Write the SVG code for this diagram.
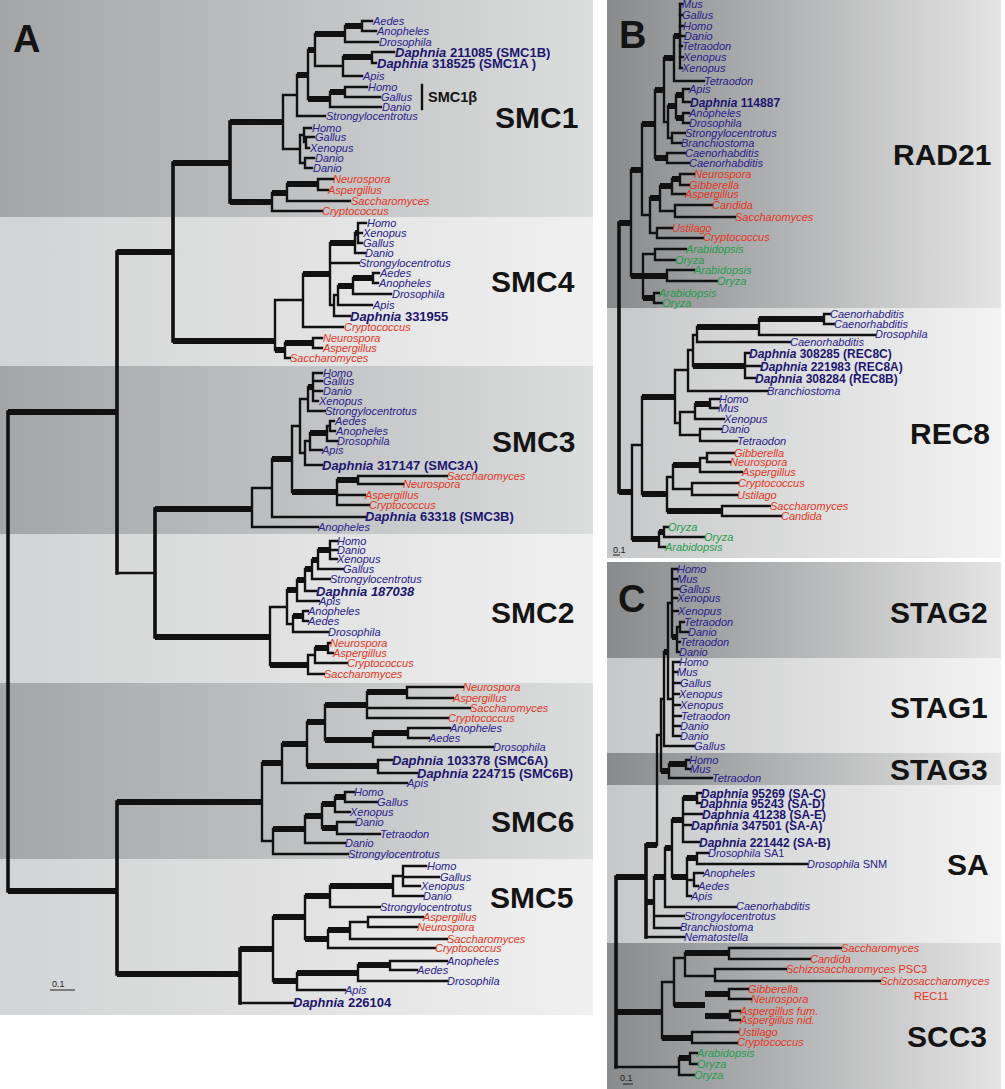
<svg xmlns="http://www.w3.org/2000/svg" width="1005" height="1089" viewBox="0 0 1005 1089">
<defs>
<linearGradient id="gdA" x1="0" y1="0" x2="1" y2="0"><stop offset="0" stop-color="#a3a5a7"/><stop offset="1" stop-color="#dcdddd"/></linearGradient>
<linearGradient id="glA" x1="0" y1="0" x2="1" y2="0"><stop offset="0" stop-color="#d2d3d4"/><stop offset="1" stop-color="#f0f0f0"/></linearGradient>
<linearGradient id="gdB" x1="0" y1="0" x2="1" y2="0"><stop offset="0" stop-color="#888a8c"/><stop offset="1" stop-color="#e4e4e4"/></linearGradient>
<linearGradient id="glB" x1="0" y1="0" x2="1" y2="0"><stop offset="0" stop-color="#c6c7c8"/><stop offset="1" stop-color="#f3f3f3"/></linearGradient>
<style>
.b{fill:none;stroke:#111;stroke-width:2.4;stroke-linecap:square}
.t{fill:none;stroke:#111;stroke-width:6;stroke-linecap:butt}
.bb{fill:none;stroke:#111;stroke-width:3.6;stroke-linecap:square}
text{font-family:"Liberation Sans",Arial,sans-serif}
.tx{font-style:italic;font-size:11px}
.an{fill:#28208c}.fu{fill:#e5361c}.pl{fill:#1f9e4a}
.dp{font-style:italic;font-weight:bold;font-size:13px;fill:#1c1670}
.dq{font-style:italic;font-weight:bold;font-size:12px;fill:#1c1670}
.n{font-style:normal}
.lb{font-weight:bold;font-size:30px;fill:#141414}
.pn{font-weight:bold;font-size:38px;fill:#141414}
.sc{font-size:9px;fill:#222}
.rg{font-style:normal}
</style>
</defs>
<rect width="1005" height="1089" fill="#fff"/>
<g id="panelA-bg">
<rect x="0" y="0" width="593" height="217" fill="url(#gdA)"/>
<rect x="0" y="217" width="593" height="149" fill="url(#glA)"/>
<rect x="0" y="366" width="593" height="168" fill="url(#gdA)"/>
<rect x="0" y="534" width="593" height="149" fill="url(#glA)"/>
<rect x="0" y="683" width="593" height="176" fill="url(#gdA)"/>
<rect x="0" y="859" width="593" height="156" fill="url(#glA)"/>
</g>
<g id="panelB-bg">
<rect x="607" y="0" width="394" height="308" fill="url(#gdB)"/>
<rect x="607" y="308" width="394" height="250" fill="url(#glB)"/>
</g>
<g id="panelC-bg">
<rect x="607" y="562" width="394" height="96" fill="url(#gdB)"/>
<rect x="607" y="658" width="394" height="95" fill="url(#glB)"/>
<rect x="607" y="753" width="394" height="32" fill="url(#gdB)"/>
<rect x="607" y="785" width="394" height="158" fill="url(#glB)"/>
<rect x="607" y="943" width="394" height="146" fill="url(#gdB)"/>
</g>
<g id="connectors">
<path class="bb" d="M8 412V891M117 252V573M173 163V341M155 509V637M117 802V974M240 949V1003M230 122V202"/>
<path class="t" d="M8 412H117M117 252H173M173 163H230M173 341H275M155 509H252M155 637H270M8 891H117M117 802H262M117 974H240"/>
<path class="b" d="M117 573H155"/>
<path class="t" d="M230 122H283M297 75H308M308 50H315M315 34H345M345 26H362M343 57H372M308 99H330M330 92H345M230 202H272M272 193H287M287 184H318"/>
<path class="b" d="M283 95V149M283 95H297M297 75V116M297 116H325M308 50V99M315 34V66M345 26V42M345 42H378M362 21V31M362 21H372M362 31H376M343 57V76M315 66H343M343 76H362M372 52V63M372 52H394M372 63H376M330 92V107M330 107H381M345 87V97M345 87H367M345 97H380M300 135V163M283 149H300M304 128V142M300 135H304M304 128H311M306 137V148M304 142H306M306 137H314M306 148H309M305 158V168M300 163H305M305 158H314M305 168H312M272 193V211M272 211H322M287 184V201M287 201H350M318 179V190M318 179H333M318 190H328"/>
<path class="b" d="M422 85V109"/>
<path class="t" d="M303 274H330M330 243H355M355 233H358M338 286H353M353 278H373M275 350H285M285 343H313"/>
<path class="b" d="M275 300V350M275 300H303M303 274V327M303 327H343M330 243V305M330 263H359M330 305H334M355 233V253M355 253H365M358 223V243M358 223H366M358 233H362M358 243H362M334 295V316M334 295H338M334 316H350M338 286V305M338 305H372M353 278V294M353 294H391M373 273V283M373 273H379M373 283H378M285 343V358M285 358H290M313 338V348M313 338H322M313 348H322"/>
<path class="t" d="M272 459H292M292 492H337M308 387H313M310 433H327M337 480H358"/>
<path class="b" d="M252 488V527M252 488H272M252 527H318M272 459V517M272 517H365M292 426V492M292 426H300M300 399V453M300 399H308M300 453H305M308 387V411M308 411H325M313 373V401M313 373H322M313 381H322M313 391H322M313 401H318M305 441V465M305 441H310M305 465H322M310 433V450M310 450H322M327 426V441M327 426H330M327 441H337M330 421V431M330 421H334M330 431H335M337 480V505M337 495H365M337 505H369M358 476V484M358 476H447M358 484H403"/>
<path class="t" d="M270 665H308M287 590H297M297 580H305M305 569H312M312 560H318M318 550H330M293 616H303M315 648H328"/>
<path class="b" d="M270 607V665M270 607H287M287 590V624M287 624H293M297 580V601M297 601H319M305 569V591M305 591H316M312 560V579M312 579H330M318 550V569M318 569H343M330 541V559M330 541H337M330 550H337M330 559H337M293 616V632M293 632H328M303 611V621M303 611H308M303 621H308M308 655V674M308 655H315M308 674H324M315 648V663M315 663H347M328 643V653M328 643H330M328 653H333"/>
<path class="t" d="M262 763H282M282 744H307M307 722H325M307 766H378M325 705H367M325 740H373M367 692H407M373 733H408M273 829H305M305 816H322M322 804H335M322 828H337M335 797H345"/>
<path class="b" d="M262 763V841M262 841H273M282 744V783M282 783H407M307 722V766M325 705V740M367 692V718M367 708H470M367 718H448M407 687V698M407 687H463M407 698H453M373 733V747M373 747H493M408 728V738M408 728H450M408 738H429M378 760V773M378 760H392M378 773H417M273 829V854M273 854H348M305 816V843M305 843H345M322 804V828M335 797V812M335 812H350M345 792V802M345 792H354M345 802H377M337 822V834M337 822H355M337 834H380"/>
<path class="t" d="M240 949H273M273 917H305M273 981H297M305 896H330M305 939H328M330 886H393M328 930H350M297 973H358M358 965H390"/>
<path class="b" d="M240 1003H293M273 917V981M305 896V939M330 886V907M330 907H380M393 876V896M393 876H403M393 896H423M403 866V886M403 866H426M403 877H439M403 886H420M328 930V948M328 948H435M350 922V939M350 922H368M350 939H447M368 917V927M368 917H423M368 927H417M297 973V990M297 990H345M358 965V981M358 981H447M390 961V970M390 961H447M390 970H417"/>
<path d="M50 990H75" stroke="#222" stroke-width="1"/>
<path class="bb" d="M619 223V492"/>
<path class="t" d="M619 223H631M619 492H632M631 170H642M631 276H643M642 124H655M655 90H664M655 158H667M664 58H674M674 36H680M668 106H676M676 95H683M676 118H683M650 198H660M660 186H672M672 179H680M643 276H667M643 298H654M632 539H659M642 397H675M642 494H667M693 366H745M697 327H759M759 319H824M695 404H710M667 511H722M673 465H700M659 532H664"/>
<path class="b" stroke-width="3.5" d="M680 4V68"/>
<path class="b" d="M631 170V276M642 124V215M642 215H650M655 90V158M664 58V122M664 122H668M674 36V81M674 81H704M680 4H682M680 15H682M680 26H683M680 36H684M680 46H682M680 57H683M680 68H682M668 106V138M668 138H672M676 95V118M683 89V102M683 89H689M683 102H690M683 113V123M683 113H689M683 123H689M672 133V143M672 133H685M672 143H681M667 153V163M667 153H685M667 163H689M650 198V233M650 233H657M660 186V211M660 211H675M672 179V194M672 194H685M680 174V185M680 174H694M680 185H689M675 205V217M675 205H712M675 217H735M657 228V238M657 228H672M657 238H703M643 254V298M643 254H655M655 249V260M655 249H686M655 260H675M667 270V281M667 270H694M667 281H717M654 293V303M654 293H659M654 303H662"/>
<path class="b" d="M632 445V539M632 445H642M642 397V494M675 370V423M675 370H688M675 423H680M688 350V391M688 350H693M688 391H767M693 335V366M693 335H697M697 327V342M697 342H790M759 319V335M759 335H875M824 314V324M824 314H830M824 324H834M745 353V378M745 353H749M745 366H760M745 378H755M680 412V435M680 412H695M680 435H700M695 404V419M695 419H724M710 399V408M710 399H719M710 408H718M700 429V441M700 429H721M700 441H737M667 477V511M667 477H673M673 465V489M673 489H692M700 458V472M700 458H707M700 472H742M707 453V462M707 453H734M707 462H730M692 483V495M692 483H738M692 495H737M722 506V516M722 506H770M722 516H781M659 532V547M659 547H665M664 527V537M664 527H668M664 537H704"/>
<path d="M613 555H620" stroke="#222" stroke-width="1"/>
<path class="bb" d="M616 877V1067M646 845V937"/>
<path class="t" d="M616 877H646M616 1012H662M646 845H657M646 902H654M661 771H669M664 652H668M672 637H677M669 764H686M654 877H665M665 848H672M672 820H683M672 877H687M683 798H697M687 858H697M662 1038H692M674 1005H705M685 953H729M705 994H729M705 1016H730M679 1058H690"/>
<path class="b" d="M616 1067H679M646 937H684M657 735V845M657 735H661M661 699V771M661 699H664M664 652V746M664 746H694M668 603V699M668 603H672M668 699H673M672 569V637M672 569H677M672 579H677M672 589H679M672 598H677M672 611H678M677 627V652M677 627H680M677 642H680M677 652H679M680 622V632M680 622H684M680 632H688M673 662V736M673 662H679M673 672H677M673 683H680M673 694H679M673 705H680M673 716H681M673 726H680M673 736H680M669 764V778M669 778H712M686 760V769M686 760H689M686 769H690M654 877V928M654 916H684M654 928H680M665 848V907M665 907H736M672 820V877M683 798V842M683 814H702M683 825H691M683 842H699M697 793V803M697 793H701M697 803H700M687 858V896M687 880H694M687 896H691M697 853V864M697 853H708M697 864H807M694 873V886M694 873H703M694 886H698M662 982V1038M662 982H674M692 1032V1043M692 1032H738M692 1043H737M674 958V1005M674 958H685M685 953V976M685 976H715M729 948V959M729 948H841M729 959H810M715 969V981M715 969H786M715 981H880M729 989V999M729 989H748M729 999H751M730 1011V1020M730 1011H740M730 1020H740M679 1058V1075M679 1075H694M690 1053V1064M690 1053H697M690 1064H697"/>
<path d="M623 1084H633" stroke="#222" stroke-width="1"/>
</g>
<g id="smc1">
<text class="tx an" x="373" y="25">Aedes</text>
<text class="tx an" x="377" y="35">Anopheles</text>
<text class="tx an" x="379" y="46">Drosophila</text>
<text class="dp" x="395" y="57">Daphnia<tspan class="n"> 211085 (SMC1B)</tspan></text>
<text class="dp" x="377" y="68">Daphnia<tspan class="n"> 318525 (SMC1A )</tspan></text>
<text class="tx an" x="363" y="80">Apis</text>
<text class="tx an" x="368" y="91">Homo</text>
<text class="tx an" x="381" y="101">Gallus</text>
<text class="tx an" x="382" y="111">Danio</text>
<text class="tx an" x="326" y="120">Strongylocentrotus</text>
<text class="tx an" x="312" y="132">Homo</text>
<text class="tx an" x="315" y="141">Gallus</text>
<text class="tx an" x="310" y="152">Xenopus</text>
<text class="tx an" x="315" y="162">Danio</text>
<text class="tx an" x="313" y="172">Danio</text>
<text class="tx fu" x="333" y="183">Neurospora</text>
<text class="tx fu" x="328" y="194">Aspergillus</text>
<text class="tx fu" x="351" y="205">Saccharomyces</text>
<text class="tx fu" x="322" y="215">Cryptococcus</text>
<text x="428" y="102" font-size="14.5" font-weight="bold" fill="#141414">SMC1β</text>
<text class="lb" x="495" y="128">SMC1</text>
</g>
<g id="smc4">
<text class="tx an" x="367" y="227">Homo</text>
<text class="tx an" x="363" y="237">Xenopus</text>
<text class="tx an" x="363" y="247">Gallus</text>
<text class="tx an" x="365" y="257">Danio</text>
<text class="tx an" x="359" y="267">Strongylocentrotus</text>
<text class="tx an" x="380" y="277">Aedes</text>
<text class="tx an" x="379" y="287">Anopheles</text>
<text class="tx an" x="392" y="298">Drosophila</text>
<text class="tx an" x="373" y="309">Apis</text>
<text class="dp" x="350" y="321">Daphnia<tspan class="n"> 331955</tspan></text>
<text class="tx fu" x="344" y="331">Cryptococcus</text>
<text class="tx fu" x="323" y="342">Neurospora</text>
<text class="tx fu" x="323" y="352">Aspergillus</text>
<text class="tx fu" x="290" y="362">Saccharomyces</text>
<text class="lb" x="491" y="292">SMC4</text>
</g>
<g id="smc3">
<text class="tx an" x="323" y="377">Homo</text>
<text class="tx an" x="323" y="385">Gallus</text>
<text class="tx an" x="323" y="395">Danio</text>
<text class="tx an" x="319" y="405">Xenopus</text>
<text class="tx an" x="325" y="415">Strongylocentrotus</text>
<text class="tx an" x="335" y="425">Aedes</text>
<text class="tx an" x="336" y="435">Anopheles</text>
<text class="tx an" x="337" y="445">Drosophila</text>
<text class="tx an" x="322" y="454">Apis</text>
<text class="dp" x="322" y="470">Daphnia<tspan class="n"> 317147 (SMC3A)</tspan></text>
<text class="tx fu" x="447" y="480">Saccharomyces</text>
<text class="tx fu" x="403" y="488">Neurospora</text>
<text class="tx fu" x="365" y="499">Aspergillus</text>
<text class="tx fu" x="369" y="509">Cryptococcus</text>
<text class="dp" x="365" y="521">Daphnia<tspan class="n"> 63318 (SMC3B)</tspan></text>
<text class="tx an" x="318" y="531">Anopheles</text>
<text class="lb" x="492" y="452">SMC3</text>
</g>
<g id="smc2">
<text class="tx an" x="337" y="545">Homo</text>
<text class="tx an" x="337" y="554">Danio</text>
<text class="tx an" x="337" y="563">Xenopus</text>
<text class="tx an" x="343" y="573">Gallus</text>
<text class="tx an" x="330" y="583">Strongylocentrotus</text>
<text class="dp" x="316" y="596">Daphnia 187038</text>
<text class="tx an" x="319" y="605">Apis</text>
<text class="tx an" x="308" y="615">Anopheles</text>
<text class="tx an" x="308" y="625">Aedes</text>
<text class="tx an" x="328" y="636">Drosophila</text>
<text class="tx fu" x="330" y="647">Neurospora</text>
<text class="tx fu" x="333" y="657">Aspergillus</text>
<text class="tx fu" x="347" y="667">Cryptococcus</text>
<text class="tx fu" x="324" y="678">Saccharomyces</text>
<text class="lb" x="491" y="623">SMC2</text>
</g>
<g id="smc6">
<text class="tx fu" x="463" y="691">Neurospora</text>
<text class="tx fu" x="453" y="702">Aspergillus</text>
<text class="tx fu" x="470" y="712">Saccharomyces</text>
<text class="tx fu" x="448" y="722">Cryptococcus</text>
<text class="tx an" x="450" y="732">Anopheles</text>
<text class="tx an" x="429" y="742">Aedes</text>
<text class="tx an" x="493" y="751">Drosophila</text>
<text class="dp" x="392" y="765">Daphnia<tspan class="n"> 103378 (SMC6A)</tspan></text>
<text class="dp" x="417" y="778">Daphnia<tspan class="n"> 224715 (SMC6B)</tspan></text>
<text class="tx an" x="407" y="787">Apis</text>
<text class="tx an" x="354" y="796">Homo</text>
<text class="tx an" x="377" y="806">Gallus</text>
<text class="tx an" x="350" y="816">Xenopus</text>
<text class="tx an" x="355" y="826">Danio</text>
<text class="tx an" x="380" y="838">Tetraodon</text>
<text class="tx an" x="345" y="847">Danio</text>
<text class="tx an" x="348" y="858">Strongylocentrotus</text>
<text class="lb" x="491" y="832">SMC6</text>
</g>
<g id="smc5">
<text class="tx an" x="427" y="870">Homo</text>
<text class="tx an" x="440" y="881">Gallus</text>
<text class="tx an" x="421" y="890">Xenopus</text>
<text class="tx an" x="423" y="900">Danio</text>
<text class="tx an" x="380" y="911">Strongylocentrotus</text>
<text class="tx fu" x="423" y="921">Aspergillus</text>
<text class="tx fu" x="417" y="931">Neurospora</text>
<text class="tx fu" x="447" y="943">Saccharomyces</text>
<text class="tx fu" x="435" y="952">Cryptococcus</text>
<text class="tx an" x="447" y="965">Anopheles</text>
<text class="tx an" x="417" y="974">Aedes</text>
<text class="tx an" x="447" y="985">Drosophila</text>
<text class="tx an" x="345" y="994">Apis</text>
<text class="dp" x="293" y="1007">Daphnia<tspan class="n"> 226104</tspan></text>
<text class="lb" x="490" y="908">SMC5</text>
<text class="sc" x="52" y="987">0.1</text>
</g>
<g id="panel-labels">
<text class="pn" x="13" y="52">A</text>
<text class="pn" x="619" y="48">B</text>
<text class="pn" x="618" y="612">C</text>
</g>
<g id="rad21">
<text class="tx an" x="682" y="8">Mus</text>
<text class="tx an" x="682" y="19">Gallus</text>
<text class="tx an" x="683" y="30">Homo</text>
<text class="tx an" x="684" y="40">Danio</text>
<text class="tx an" x="682" y="50">Tetraodon</text>
<text class="tx an" x="683" y="61">Xenopus</text>
<text class="tx an" x="682" y="72">Xenopus</text>
<text class="tx an" x="704" y="85">Tetraodon</text>
<text class="tx an" x="689" y="93">Apis</text>
<text class="dq" x="690" y="107">Daphnia<tspan class="n"> 114887</tspan></text>
<text class="tx an" x="689" y="117">Anopheles</text>
<text class="tx an" x="689" y="127">Drosophila</text>
<text class="tx an" x="685" y="137">Strongylocentrotus</text>
<text class="tx an" x="681" y="147">Branchiostoma</text>
<text class="tx an" x="685" y="157">Caenorhabditis</text>
<text class="tx an" x="689" y="167">Caenorhabditis</text>
<text class="tx fu" x="694" y="178">Neurospora</text>
<text class="tx fu" x="689" y="189">Gibberella</text>
<text class="tx fu" x="685" y="198">Aspergillus</text>
<text class="tx fu" x="712" y="209">Candida</text>
<text class="tx fu" x="735" y="221">Saccharomyces</text>
<text class="tx fu" x="672" y="232">Ustilago</text>
<text class="tx fu" x="703" y="241" font-size="8.5">Cryptococcus</text>
<text class="tx pl" x="686" y="253">Arabidopsis</text>
<text class="tx pl" x="675" y="264">Oryza</text>
<text class="tx pl" x="694" y="274">Arabidopsis</text>
<text class="tx pl" x="717" y="285">Oryza</text>
<text class="tx pl" x="659" y="297">Arabidopsis</text>
<text class="tx pl" x="662" y="307">Oryza</text>
<text class="lb" x="893" y="165">RAD21</text>
</g>
<g id="rec8">
<text class="tx an" x="830" y="318">Caenorhabditis</text>
<text class="tx an" x="834" y="328">Caenorhabditis</text>
<text class="tx an" x="875" y="338">Drosophila</text>
<text class="tx an" x="790" y="346">Caenorhabditis</text>
<text class="dq" x="749" y="358">Daphnia<tspan class="n"> 308285 (REC8C)</tspan></text>
<text class="dq" x="760" y="371">Daphnia<tspan class="n"> 221983 (REC8A)</tspan></text>
<text class="dq" x="755" y="383">Daphnia<tspan class="n"> 308284 (REC8B)</tspan></text>
<text class="tx an" x="767" y="395">Branchiostoma</text>
<text class="tx an" x="719" y="403">Homo</text>
<text class="tx an" x="718" y="412">Mus</text>
<text class="tx an" x="724" y="423">Xenopus</text>
<text class="tx an" x="721" y="433">Danio</text>
<text class="tx an" x="737" y="445">Tetraodon</text>
<text class="tx fu" x="734" y="457">Gibberella</text>
<text class="tx fu" x="730" y="466">Neurospora</text>
<text class="tx fu" x="742" y="476">Aspergillus</text>
<text class="tx fu" x="738" y="487">Cryptococcus</text>
<text class="tx fu" x="737" y="499">Ustilago</text>
<text class="tx fu" x="770" y="510">Saccharomyces</text>
<text class="tx fu" x="781" y="520">Candida</text>
<text class="tx pl" x="668" y="531">Oryza</text>
<text class="tx pl" x="704" y="541">Oryza</text>
<text class="tx pl" x="665" y="551">Arabidopsis</text>
<text class="lb" x="910" y="444">REC8</text>
<text class="sc" x="613" y="553">0.1</text>
</g>
<g id="stag">
<text class="tx an" x="677" y="573">Homo</text>
<text class="tx an" x="677" y="583">Mus</text>
<text class="tx an" x="679" y="593">Gallus</text>
<text class="tx an" x="677" y="602">Xenopus</text>
<text class="tx an" x="678" y="615">Xenopus</text>
<text class="tx an" x="684" y="626">Tetraodon</text>
<text class="tx an" x="688" y="636">Danio</text>
<text class="tx an" x="680" y="646">Tetraodon</text>
<text class="tx an" x="679" y="656">Danio</text>
<text class="tx an" x="679" y="666">Homo</text>
<text class="tx an" x="677" y="676">Mus</text>
<text class="tx an" x="680" y="687">Gallus</text>
<text class="tx an" x="679" y="698">Xenopus</text>
<text class="tx an" x="680" y="709">Xenopus</text>
<text class="tx an" x="681" y="720">Tetraodon</text>
<text class="tx an" x="680" y="730">Danio</text>
<text class="tx an" x="680" y="740">Danio</text>
<text class="tx an" x="694" y="750">Gallus</text>
<text class="tx an" x="689" y="764">Homo</text>
<text class="tx an" x="690" y="773">Mus</text>
<text class="tx an" x="712" y="782">Tetraodon</text>
<text class="lb" x="890" y="623">STAG2</text>
<text class="lb" x="890" y="718">STAG1</text>
<text class="lb" x="890" y="780">STAG3</text>
</g>
<g id="sa">
<text class="dq" x="701" y="798">Daphnia<tspan class="n"> 95269 (SA-C)</tspan></text>
<text class="dq" x="700" y="808">Daphnia<tspan class="n"> 95243 (SA-D)</tspan></text>
<text class="dq" x="702" y="819">Daphnia<tspan class="n"> 41238 (SA-E)</tspan></text>
<text class="dq" x="691" y="830">Daphnia<tspan class="n"> 347501 (SA-A)</tspan></text>
<text class="dq" x="699" y="847">Daphnia<tspan class="n"> 221442 (SA-B)</tspan></text>
<text class="tx an" x="708" y="857">Drosophila<tspan class="rg"> SA1</tspan></text>
<text class="tx an" x="807" y="868">Drosophila<tspan class="rg"> SNM</tspan></text>
<text class="tx an" x="703" y="877">Anopheles</text>
<text class="tx an" x="698" y="890">Aedes</text>
<text class="tx an" x="691" y="900">Apis</text>
<text class="tx an" x="736" y="910">Caenorhabditis</text>
<text class="tx an" x="684" y="920">Strongylocentrotus</text>
<text class="tx an" x="680" y="931">Branchiostoma</text>
<text class="tx an" x="684" y="941">Nematostella</text>
<text class="lb" x="947" y="875">SA</text>
</g>
<g id="scc3">
<text class="tx fu" x="841" y="952">Saccharomyces</text>
<text class="tx fu" x="810" y="963">Candida</text>
<text class="tx fu" x="786" y="973">Schizosaccharomyces<tspan class="rg"> PSC3</tspan></text>
<text class="tx fu" x="880" y="985">Schizosaccharomyces</text>
<text class="tx fu rg" x="914" y="1000">REC11</text>
<text class="tx fu" x="748" y="993">Gibberella</text>
<text class="tx fu" x="751" y="1003">Neurospora</text>
<text class="tx fu" x="740" y="1015">Aspergillus fum.</text>
<text class="tx fu" x="740" y="1024">Aspergillus nid.</text>
<text class="tx fu" x="738" y="1036">Ustilago</text>
<text class="tx fu" x="737" y="1046">Cryptococcus</text>
<text class="tx pl" x="697" y="1057">Arabidopsis</text>
<text class="tx pl" x="697" y="1068">Oryza</text>
<text class="tx pl" x="694" y="1079">Oryza</text>
<text class="lb" x="907" y="1047">SCC3</text>
<text class="sc" x="620" y="1081">0.1</text>
</g>
</svg>
